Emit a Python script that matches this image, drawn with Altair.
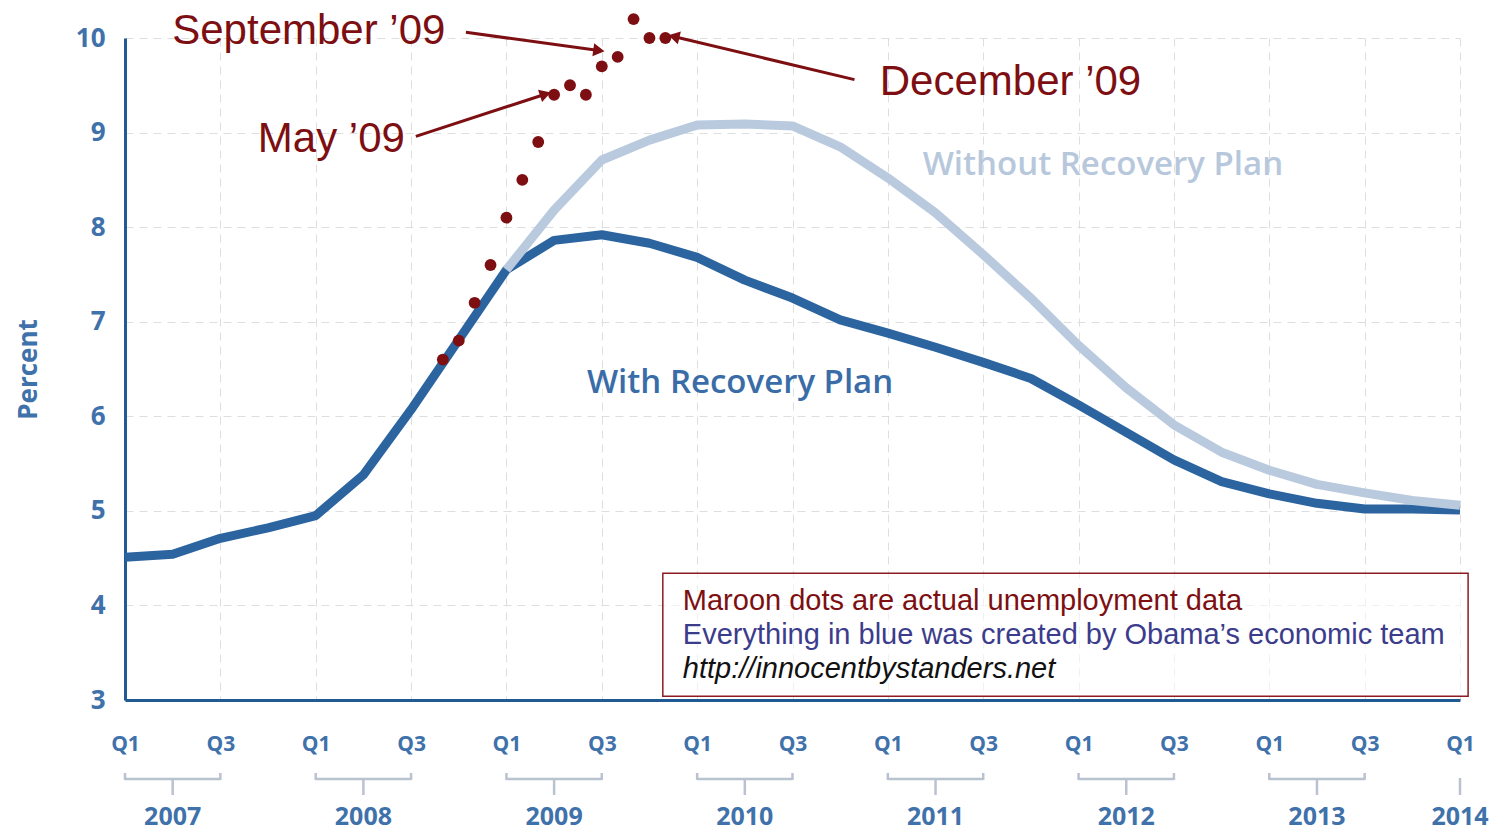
import math
import altair as alt
import pandas as pd

# ---------------- data ----------------
# x positions are quarter indices: 0 = 2007 Q1 ... 28 = 2014 Q1
quarters = list(range(29))
with_plan = [4.51, 4.54, 4.71, 4.82, 4.95, 5.38, 6.07, 6.81, 7.55, 7.86,
             7.92, 7.83, 7.68, 7.44, 7.25, 7.02, 6.88, 6.73, 6.57, 6.40,
             6.12, 5.83, 5.54, 5.31, 5.18, 5.08, 5.02, 5.02, 5.01]
without_start = 8
without_plan = [7.55, 8.18, 8.71, 8.92, 9.08, 9.09, 9.07, 8.85, 8.52, 8.15,
                7.71, 7.25, 6.75, 6.30, 5.91, 5.62, 5.43, 5.28, 5.19, 5.11, 5.06]

actual_months = ["2008-10", "2008-11", "2008-12", "2009-01", "2009-02", "2009-03",
                 "2009-04", "2009-05", "2009-06", "2009-07", "2009-08", "2009-09",
                 "2009-10", "2009-11", "2009-12"]
actual_rate = [6.6, 6.8, 7.2, 7.6, 8.1, 8.5, 8.9, 9.4, 9.5, 9.4, 9.7, 9.8, 10.2, 10.0, 10.0]

years = [2007, 2008, 2009, 2010, 2011, 2012, 2013, 2014]
tick_labels = ["Q1", "Q3"]

annot_text = ["September \u201909", "May \u201909", "December \u201909"]
annot_x = [6.72, 5.87, 15.83]
annot_y = [10.07, 8.93, 9.53]
annot_align = ["right", "right", "left"]
arrow_x1 = [7.15, 6.10, 15.30]
arrow_y1 = [10.06, 8.96, 9.56]
arrow_x2 = [9.90, 8.78, 11.55]
arrow_y2 = [9.87, 9.40, 10.01]

box_lines = ["Maroon dots are actual unemployment data",
             "Everything in blue was created by Obama\u2019s economic team",
             "http://innocentbystanders.net"]
box_line_y = [4.05, 3.69, 3.33]

# ---------------- layout constants ----------------
W, H = 1335, 662
PX_X = W / 28.0
PX_Y = H / 7.0
DARK = "#2c64a0"
LIGHT = "#b9cadf"
AXIS = "#1f5a93"
LABEL = "#3f71aa"
MAROON = "#7d0f12"
GRID = "#dedede"
BRACKET = "#b9c2cf"
FONT = "Open Sans"

# ---------------- tables ----------------
def month_pos(s):
    y, m = int(s[:4]), int(s[5:])
    return 4 * (y - 2007) + (m - 1) // 3 + ((m - 1) % 3 - 1) / 3.0

df_with = pd.DataFrame({"q": quarters, "v": with_plan})
df_without = pd.DataFrame({"q": list(range(without_start, without_start + len(without_plan))),
                           "v": without_plan})
df_actual = pd.DataFrame({"q": [month_pos(s) for s in actual_months], "v": actual_rate})

angles = []
for a, b, c, d in zip(arrow_x1, arrow_y1, arrow_x2, arrow_y2):
    dx = (c - a) * PX_X
    dy = -(d - b) * PX_Y
    angles.append(math.degrees(math.atan2(dx, -dy)) % 360)
df_arrow = pd.DataFrame({"q": arrow_x1, "v": arrow_y1, "q2": arrow_x2, "v2": arrow_y2,
                         "angle": angles})
df_annot = pd.DataFrame({"q": annot_x, "v": annot_y, "t": annot_text, "al": annot_align})

year_pos = [4 * (y - 2007) + 1 if y < 2014 else 28 for y in years]
df_years = pd.DataFrame({"q": year_pos, "t": [str(y) for y in years]})
df_hseg = pd.DataFrame({"q": [4 * (y - 2007) for y in years[:-1]],
                        "q2": [4 * (y - 2007) + 2 for y in years[:-1]]})
df_caps = pd.DataFrame({"q": [4 * (y - 2007) + k for y in years[:-1] for k in (0, 2)]})

xs = alt.Scale(domain=[0, 28], nice=False, zero=False)
ys = alt.Scale(domain=[3, 10], nice=False, zero=False)

label_expr = "datum.value %% 4 == 0 ? '%s' : '%s'" % (tick_labels[0], tick_labels[1])

x_axis = alt.Axis(values=list(range(0, 29, 2)), labelExpr=label_expr, grid=True,
                  gridColor=GRID, gridDash=[8, 6], gridWidth=1, ticks=False,
                  domainColor=AXIS, domainWidth=3, labelPadding=33,
                  labelFont=FONT, labelFontSize=21, labelFontWeight="bold",
                  labelColor=LABEL, title=None, labelFlush=False)
y_axis = alt.Axis(values=list(range(3, 11)), grid=True, gridColor=GRID, gridDash=[8, 6],
                  gridWidth=1, ticks=False, domainColor=AXIS, domainWidth=3,
                  labelPadding=20, labelFont=FONT, labelFontSize=26, labelFontWeight="bold",
                  labelColor=LABEL, title="Percent", titleFont=FONT, titleFontSize=26,
                  titleFontWeight="bold", titleColor=LABEL, titlePadding=34)


def X(f="q"):
    return alt.X(f + ":Q", scale=xs, axis=x_axis)


def Y(f="v"):
    return alt.Y(f + ":Q", scale=ys, axis=y_axis)


line_with = alt.Chart(df_with).mark_line(color=DARK, strokeWidth=9, strokeJoin="round").encode(
    x=X(), y=Y())
line_without = alt.Chart(df_without).mark_line(color=LIGHT, strokeWidth=9, strokeJoin="round").encode(
    x=X(), y=Y())
dots = alt.Chart(df_actual).mark_circle(color=MAROON, size=140, opacity=1).encode(x=X(), y=Y())

arrows = alt.Chart(df_arrow).mark_rule(color=MAROON, strokeWidth=3).encode(
    x=X(), y=Y(), x2="q2:Q", y2="v2:Q")
heads = alt.Chart(df_arrow).mark_point(shape="triangle", filled=True, color=MAROON,
                                        size=170, opacity=1).encode(
    x=X("q2"), y=Y("v2"), angle=alt.Angle("angle:Q", scale=None))

annot_layers = []
for al in ["right", "left"]:
    annot_layers.append(
        alt.Chart(df_annot[df_annot.al == al]).mark_text(
            align=al, baseline="middle", font="Liberation Sans", fontSize=42, color=MAROON
        ).encode(x=X(), y=Y(), text="t:N"))

lab_with = alt.Chart(pd.DataFrame({"q": [12.9], "v": [6.35], "t": ["With Recovery Plan"]})).mark_text(
    font=FONT, fontSize=33, fontWeight=600, color="#3a6da8", align="center", baseline="middle"
).encode(x=X(), y=Y(), text="t:N")
lab_without = alt.Chart(pd.DataFrame({"q": [20.51], "v": [8.66], "t": ["Without Recovery Plan"]})).mark_text(
    font=FONT, fontSize=33, fontWeight=600, color="#b8c8dc", align="center", baseline="middle"
).encode(x=X(), y=Y(), text="t:N")

box = alt.Chart(pd.DataFrame({"q": [11.28], "q2": [28.17], "v": [4.34], "v2": [3.04]})).mark_rect(
    fill="white", fillOpacity=0.55, stroke="#8c1c22", strokeWidth=1.5
).encode(x=X(), x2="q2:Q", y=Y(), y2="v2:Q")
box_colors = [MAROON, "#3c3c8c", "#111111"]
box_styles = ["normal", "normal", "italic"]
box_texts = []
for t, yv, c, st in zip(box_lines, box_line_y, box_colors, box_styles):
    box_texts.append(
        alt.Chart(pd.DataFrame({"q": [11.70], "v": [yv], "t": [t]})).mark_text(
            font="Liberation Sans", fontSize=29, color=c, fontStyle=st,
            align="left", baseline="middle"
        ).encode(x=X(), y=Y(), text="t:N"))

hseg = alt.Chart(df_hseg).mark_rule(color=BRACKET, strokeWidth=2.5).encode(
    x=X(), x2="q2:Q", y=alt.value(741))
caps = alt.Chart(df_caps).mark_rule(color=BRACKET, strokeWidth=2.5).encode(
    x=X(), y=alt.value(735), y2=alt.value(742))
centers = alt.Chart(df_years).mark_rule(color=BRACKET, strokeWidth=2.5).encode(
    x=X(), y=alt.value(740), y2=alt.value(757))
year_text = alt.Chart(df_years).mark_text(
    font=FONT, fontSize=25, fontWeight="bold", color=LABEL, baseline="middle", align="center"
).encode(x=X(), y=alt.value(779), text="t:N")

chart = alt.layer(
    line_with, box, line_without, dots, arrows, heads, *annot_layers,
    lab_with, lab_without, *box_texts, hseg, caps, centers, year_text
).properties(
    width=W, height=H,
    autosize=alt.AutoSizeParams(type="none"),
    padding={"left": 125, "top": 38, "right": 37, "bottom": 136},
    background="white",
).configure_view(stroke=None)

chart.save("out.html", embed_options={"renderer": "svg", "actions": False})
